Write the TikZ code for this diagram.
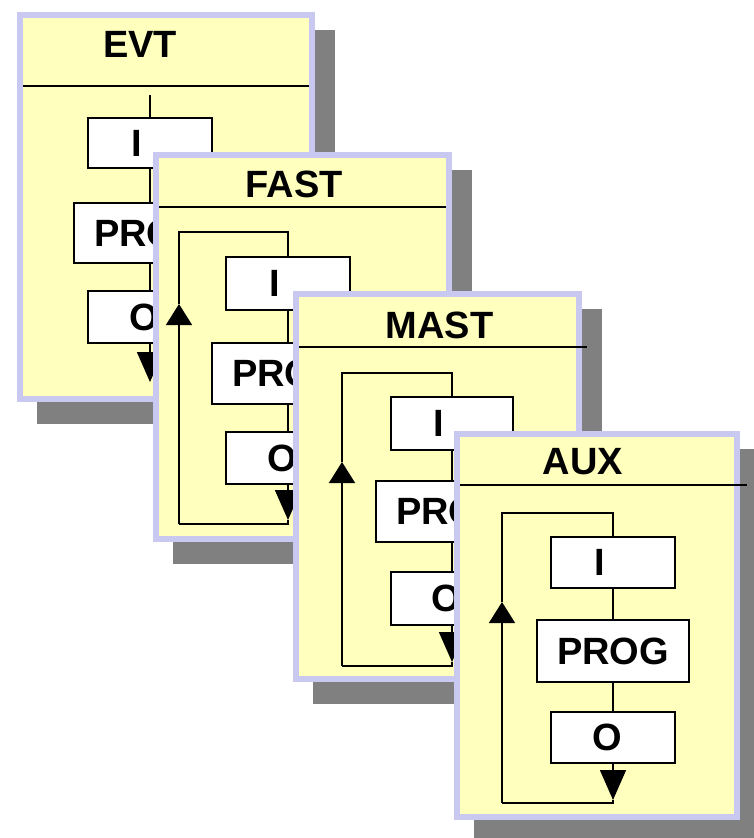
\documentclass[tikz,border=0pt]{standalone}
\usepackage{fontspec}
\setmainfont{Liberation Sans}
\usetikzlibrary{arrows.meta}
\definecolor{cardfill}{RGB}{255,255,190}
\definecolor{cardedge}{RGB}{200,200,240}
\definecolor{shadowgray}{RGB}{128,128,128}
\begin{document}
\begin{tikzpicture}[x=1pt,y=-1pt,
  shadowbox/.style={fill=shadowgray, draw=none},
  cardbox/.style={fill=cardfill, draw=cardedge, line width=6pt},
  stepbox/.style={draw=black, fill=white, line width=1.5pt, inner sep=0pt},
  smallbox/.style={stepbox, minimum width=124pt},
  progbox/.style={stepbox, minimum width=152pt},
  lbl/.style={font=\fontsize{38}{38}\selectfont\bfseries, inner sep=0pt},
  wire/.style={line width=1.5pt},
  downarr/.style={wire, -{Triangle[length=30pt,width=26pt]}},
  uparr/.style={wire, -{Triangle[length=21pt,width=26pt]}},
]
\useasboundingbox (0,0) rectangle (753,838);
\fill[white] (0,0) rectangle (753,838);

% ---------- EVT ----------
\fill[shadowbox] (37,30) rectangle (335,424);
\draw[cardbox] (20,15) rectangle (312,399);
\draw[wire] (23,86) -- (309,86);
\node[lbl] (evt-title) at (140,44.5) {EVT};
\node[smallbox, minimum height=50pt] (evt-i) at (150,143) {};
\node[progbox, minimum height=60pt] (evt-prog) at (150,233) {};
\node[smallbox, minimum height=52pt] (evt-o) at (150,317) {};
\node[lbl] (evt-i-t) at ([xshift=-13pt]evt-i.center) {I};
\node[lbl] (evt-prog-t) at (evt-prog.center) {PROG};
\node[lbl] (evt-o-t) at ([xshift=-6pt]evt-o.center) {O};
\coordinate (evt-top) at (150,95);
\coordinate (evt-dtip) at (150,382);
\draw[wire] (evt-top) -- (evt-i.north);
\draw[wire] (evt-i.south) -- (evt-prog.north);
\draw[wire] (evt-prog.south) -- (evt-o.north);
\draw[downarr] (evt-o.south) -- (evt-dtip);

% ---------- FAST ----------
\fill[shadowbox] (173,170) rectangle (472,564);
\draw[cardbox] (156,155) rectangle (449,539);
\draw[wire] (159,207) -- (446,207);
\node[lbl] (fast-title) at (294,184) {FAST};
\node[smallbox, minimum height=53pt] (fast-i) at (288,283.5) {};
\node[progbox, minimum height=61pt] (fast-prog) at (288,373.5) {};
\node[smallbox, minimum height=52pt] (fast-o) at (288,458) {};
\node[lbl] (fast-i-t) at ([xshift=-13pt]fast-i.center) {I};
\node[lbl] (fast-prog-t) at (fast-prog.center) {PROG};
\node[lbl] (fast-o-t) at ([xshift=-6pt]fast-o.center) {O};
\coordinate (fast-lt) at (179,232);
\coordinate (fast-ct) at (288,232);
\coordinate (fast-lb) at (179,524);
\coordinate (fast-cb) at (288,524);
\coordinate (fast-dtip) at (288,520);
\coordinate (fast-utip) at (179,304);
\draw[wire] (fast-utip) -- (fast-lt) -- (fast-ct) -- (fast-i.north);
\draw[wire] (fast-i.south) -- (fast-prog.north);
\draw[wire] (fast-prog.south) -- (fast-o.north);
\draw[downarr] (fast-o.south) -- (fast-dtip);
\draw[wire] (fast-dtip) -- (fast-cb) -- (fast-lb);
\draw[uparr] (fast-lb) -- (fast-utip);

% ---------- MAST ----------
\fill[shadowbox] (313,309) rectangle (602,704);
\draw[cardbox] (296,294) rectangle (579,679);
\draw[wire] (299,347) -- (587,347);
\node[lbl] (mast-title) at (439.5,325) {MAST};
\node[stepbox, minimum width=122pt, minimum height=53pt] (mast-i) at (452,423.5) {};
\node[progbox, minimum height=61pt] (mast-prog) at (452,511.5) {};
\node[stepbox, minimum width=122pt, minimum height=53pt] (mast-o) at (452,598.5) {};
\node[lbl] (mast-i-t) at ([xshift=-13pt]mast-i.center) {I};
\node[lbl] (mast-prog-t) at (mast-prog.center) {PROG};
\node[lbl] (mast-o-t) at ([xshift=-6pt]mast-o.center) {O};
\coordinate (mast-lt) at (342,373);
\coordinate (mast-ct) at (452,373);
\coordinate (mast-lb) at (342,666);
\coordinate (mast-cb) at (452,666);
\coordinate (mast-dtip) at (452,662);
\coordinate (mast-utip) at (342,462);
\draw[wire] (mast-utip) -- (mast-lt) -- (mast-ct) -- (mast-i.north);
\draw[wire] (mast-i.south) -- (mast-prog.north);
\draw[wire] (mast-prog.south) -- (mast-o.north);
\draw[downarr] (mast-o.south) -- (mast-dtip);
\draw[wire] (mast-dtip) -- (mast-cb) -- (mast-lb);
\draw[uparr] (mast-lb) -- (mast-utip);

% ---------- AUX ----------
\fill[shadowbox] (474,449) rectangle (760,842);
\draw[cardbox] (457,434) rectangle (737,817);
\draw[wire] (460,485) -- (747,485);
\node[lbl] (aux-title) at (583,461.5) {AUX};
\node[smallbox, minimum height=51pt] (aux-i) at (613,562.5) {};
\node[progbox, minimum height=62pt] (aux-prog) at (613,651) {};
\node[smallbox, minimum height=51pt] (aux-o) at (613,737.5) {};
\node[lbl] (aux-i-t) at ([xshift=-13pt]aux-i.center) {I};
\node[lbl] (aux-prog-t) at (aux-prog.center) {PROG};
\node[lbl] (aux-o-t) at ([xshift=-6pt]aux-o.center) {O};
\coordinate (aux-lt) at (502,513);
\coordinate (aux-ct) at (613,513);
\coordinate (aux-lb) at (502,803);
\coordinate (aux-cb) at (613,803);
\coordinate (aux-dtip) at (613,800);
\coordinate (aux-utip) at (502,602);
\draw[wire] (aux-utip) -- (aux-lt) -- (aux-ct) -- (aux-i.north);
\draw[wire] (aux-i.south) -- (aux-prog.north);
\draw[wire] (aux-prog.south) -- (aux-o.north);
\draw[downarr] (aux-o.south) -- (aux-dtip);
\draw[wire] (aux-dtip) -- (aux-cb) -- (aux-lb);
\draw[uparr] (aux-lb) -- (aux-utip);
\end{tikzpicture}
\end{document}
